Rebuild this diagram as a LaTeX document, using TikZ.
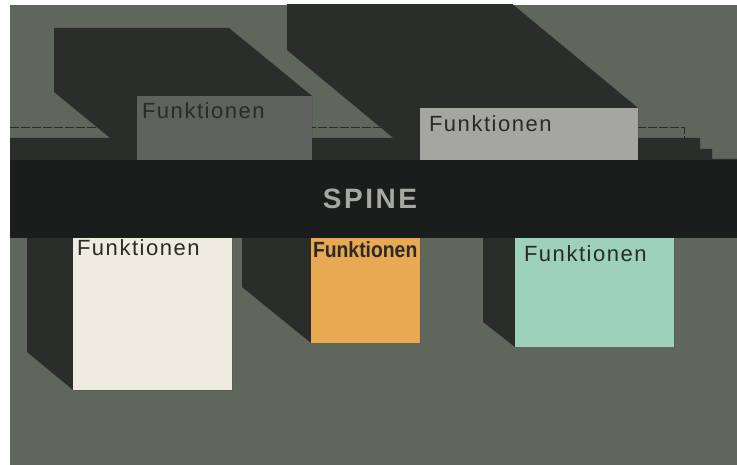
\documentclass[tikz,border=0pt]{standalone}
\usepackage{fontspec}
\setmainfont{Liberation Sans}
\newfontfamily\labfont[LetterSpace=7]{Liberation Sans}
\newfontfamily\spinefont[LetterSpace=9]{Liberation Sans}
\usetikzlibrary{calc}
\definecolor{bgc}{HTML}{5F665B}
\definecolor{shadowc}{HTML}{2B2D2A}
\definecolor{spinec}{HTML}{1B1D1C}
\definecolor{boxone}{HTML}{5E615D}
\definecolor{boxtwo}{HTML}{A4A69F}
\definecolor{boxa}{HTML}{EEECE1}
\definecolor{boxb}{HTML}{E9A852}
\definecolor{boxc}{HTML}{9DD1BA}
\definecolor{textc}{HTML}{2A2B28}
\definecolor{spinetext}{HTML}{A6A8A1}
\begin{document}
\begin{tikzpicture}[x=1pt,y=-1pt,
  panel/.style={draw=none, inner sep=0pt, outer sep=0pt, anchor=north west},
  lbl/.style={inner sep=0pt, outer sep=0pt, anchor=base west, text=textc,
    font=\labfont\fontsize{22}{26}\selectfont},
  shade/.style={fill=shadowc}]
\useasboundingbox (0,0) rectangle (737,465);
\fill[bgc] (10,5) rectangle (737,465);
\begin{scope}
\clip (10,5) rectangle (737,465);
% faint edge line above spine shadow
\draw[shadowc, line width=1pt, dash pattern=on 9pt off 2pt] (10,128) -- (684,128) -- (684,138);
% shadows of upper panels
\fill[shade] (54,28) -- (229,28) -- (312,96) -- (312,160) -- (137,160) -- (54,92) -- cycle;
\fill[shade] (287,-2) -- (505,-2) -- (638,108) -- (638,160) -- (420,160) -- (287,50) -- cycle;
% spine shadow strip
\fill[shade] (10,138) -- (700,138) -- (700,149) -- (712,149) -- (712,159) -- (737,159) -- (737,160) -- (10,160) -- cycle;
% shadows of lower panels
\fill[shade] (27,200) -- (186,200) -- (232,238) -- (232,390) -- (73,390) -- (27,352) -- cycle;
\fill[shade] (242,182) -- (351,182) -- (420,238) -- (420,343) -- (311,343) -- (242,287) -- cycle;
\fill[shade] (483,213) -- (642,213) -- (674,238) -- (674,347) -- (515,347) -- (483,322) -- cycle;
\end{scope}
% upper panels
\node[panel, fill=boxone, minimum width=175pt, minimum height=64pt] (p1) at (137,96) {};
\node[panel, fill=boxtwo, minimum width=218pt, minimum height=52pt] (p2) at (420,108) {};
% spine
\node[panel, fill=spinec, minimum width=727pt, minimum height=78pt] (spine) at (10,160) {};
% lower panels
\node[panel, fill=boxa, minimum width=159pt, minimum height=152pt] (pa) at (73,238) {};
\node[panel, fill=boxb, minimum width=109pt, minimum height=105pt] (pb) at (311,238) {};
\node[panel, fill=boxc, minimum width=159pt, minimum height=109pt] (pc) at (515,238) {};
% labels
\node[lbl] (t1) at (142,119) {Funktionen};
\node[lbl] (t2) at (429,132) {Funktionen};
\node[lbl] (ta) at (77,256) {Funktionen};
\node[lbl, font=\fontsize{22}{26}\selectfont] (tb) at (313,258) {\scalebox{0.88}[1]{\bfseries Funktionen}};
\node[lbl] (tc) at (524,262) {Funktionen};
\node[inner sep=0pt, outer sep=0pt, anchor=base, text=spinetext,
  font=\spinefont\bfseries\fontsize{28}{32}\selectfont] (st) at (370,209) {SPINE};
\end{tikzpicture}
\end{document}
